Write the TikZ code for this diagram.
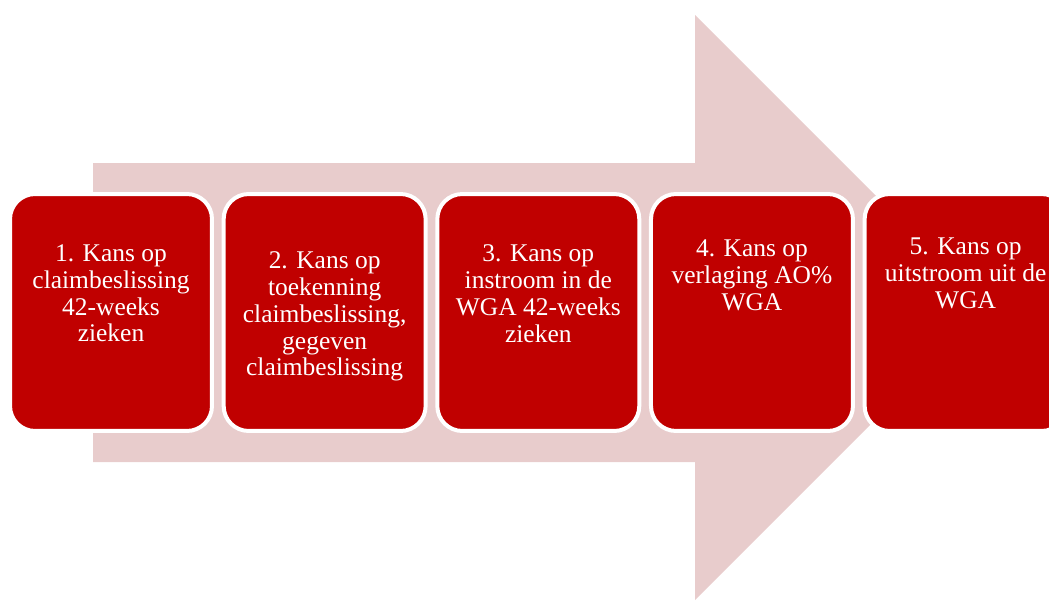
\documentclass[tikz,border=0pt]{standalone}
\usepackage{fontspec}
\setmainfont{Liberation Serif}
\usepackage[dvipsnames]{xcolor}
\usetikzlibrary{positioning}

\definecolor{arrowpink}{HTML}{E8CCCC}
\definecolor{boxred}{HTML}{C00000}

\begin{document}
\begin{tikzpicture}[x=0.02cm, y=-0.02cm,
        stepbox/.style={draw=white, line width=0.08cm, fill=boxred, rounded corners=0.5cm,
            minimum width=4.04cm, minimum height=4.74cm, inner sep=0, outer sep=0},
        steptext/.style={text=white, align=center, inner sep=0, outer sep=0,
            font=\fontsize{14.5}{15.2}\selectfont},
        node distance=0.234cm]
        \clip (0, 0) rectangle (1049, 602);
        \fill[arrowpink] (93, 163) -- (695, 163) -- (695, 15) -- (987.5, 307.5)
            -- (695, 600) -- (695, 462) -- (93, 462) -- cycle;
        \node[stepbox] (b1) at (111, 312.5) {};
        \node[stepbox, right=of b1] (b2) {};
        \node[stepbox, right=of b2] (b3) {};
        \node[stepbox, right=of b3] (b4) {};
        \node[stepbox, right=of b4] (b5) {};
        \node[steptext, below=1.02cm of b1.north] (t1) {1. Kans op\\claimbeslissing\\42-weeks\\zieken};
        \node[steptext, below=1.16cm of b2.north] (t2) {2. Kans op\\toekenning\\claimbeslissing,\\gegeven\\claimbeslissing};
        \node[steptext, below=1.02cm of b3.north] (t3) {3. Kans op\\instroom in de\\WGA 42-weeks\\zieken};
        \node[steptext, below=0.92cm of b4.north] (t4) {4. Kans op\\verlaging AO\%\\WGA};
        \node[steptext, below=0.88cm of b5.north] (t5) {5. Kans op\\uitstroom uit de\\WGA};
    \end{tikzpicture}
\end{document}
